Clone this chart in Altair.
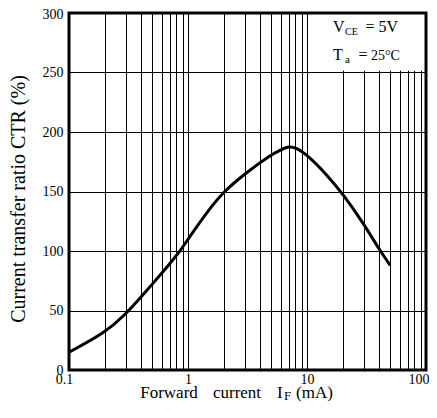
import altair as alt
import pandas as pd

# ---- data ----
IF_mA = [0.1, 0.2, 0.3, 0.4, 0.5, 0.7, 0.86, 1, 1.5, 2, 3, 5, 6, 7, 8, 10, 15, 20, 30, 40, 50]
CTR = [15, 31, 47, 61, 72, 89, 100, 110, 135, 150, 165, 181, 185, 188, 187, 181, 163, 148, 123, 102, 88]

x_grid = [round(m * 10.0 ** e, 4) for e in (-1, 0, 1) for m in range(1, 10)] + [100]
x_labels = [0.1, 1, 10, 100]
y_ticks = [0, 50, 100, 150, 200, 250, 300]

FONT = "Liberation Serif"
W, H = 357, 357

curve = pd.DataFrame({"IF": IF_mA, "CTR": CTR})
one = pd.DataFrame({"k": [0]})

xscale = alt.Scale(type="log", domain=[0.1, 100], nice=False)
yscale = alt.Scale(domain=[0, 300], nice=False)

label_expr = "indexof([" + ",".join(str(v) for v in x_labels) + "], datum.value) >= 0 ? datum.label : ''"

xaxis = alt.Axis(values=x_grid, labelExpr=label_expr, format="~g", title=None, grid=True,
                 gridColor="#000", gridWidth=1, gridOpacity=1, ticks=False, domain=False,
                 labelFont=FONT, labelFontSize=14, labelColor="#000", labelPadding=2,
                 labelFlush=False, labelOverlap=False,
                 labelAlign={"condition": {"test": "datum.value == 100", "value": "right"}, "value": "center"},
                 labelOffset={"condition": [{"test": "datum.value == 100", "value": 3},
                                            {"test": "datum.value == 0.1", "value": -5}],
                              "value": 0})
yaxis = alt.Axis(values=y_ticks, title=None, grid=True, gridColor="#000", gridWidth=1,
                 gridOpacity=1, ticks=False, domain=False, labelFont=FONT, labelFontSize=14,
                 labelColor="#000", labelPadding=6,
                 labelOffset={"condition": {"test": "datum.value == 300", "value": 1.5}, "value": 0})

line = alt.Chart(curve).mark_line(color="#000", strokeWidth=3, interpolate="basis").encode(
    x=alt.X("IF:Q", scale=xscale, axis=xaxis),
    y=alt.Y("CTR:Q", scale=yscale, axis=yaxis),
)

box = alt.Chart(one).mark_rect(fill="#fff").encode(
    x=alt.datum(10.6, type="quantitative", scale=xscale),
    x2=alt.datum(100),
    y=alt.datum(251.5, type="quantitative", scale=yscale),
    y2=alt.datum(300),
)

frame = alt.Chart(one).mark_rect(filled=False, stroke="#000", strokeWidth=3).encode(
    x=alt.datum(0.1, type="quantitative", scale=xscale),
    x2=alt.datum(100),
    y=alt.datum(0, type="quantitative", scale=yscale),
    y2=alt.datum(300),
)


def txt(s, x, y, size, align="left", angle=0, baseline="alphabetic"):
    return alt.Chart(one).mark_text(
        text=s, font=FONT, fontSize=size, color="#000", align=align, baseline=baseline, angle=angle
    ).encode(x=alt.value(x), y=alt.value(y))


texts = [
    # annotation box
    txt("V", 264, 19, 16),
    txt("CE", 276, 22, 10),
    txt("=", 301, 19, 16, align="center"),
    txt("5V", 329, 19, 16, align="right"),
    txt("T", 264, 47, 16),
    txt("a", 276, 50, 11),
    txt("=", 294, 47, 16, align="center"),
    txt("25°C", 302, 47, 14),
    # y title
    txt("Current transfer ratio CTR (%)", -50, 186, 20, align="center", angle=270, baseline="middle"),
    # x title
    txt("Forward", 100, 385, 17, align="center"),
    txt("current", 168, 385, 17, align="center"),
    txt("I", 208, 385, 17),
    txt("F", 215, 387, 13),
    txt("(mA)", 227, 385, 17),
]

chart = alt.layer(line, box, frame, *texts).properties(
    width=W, height=H,
    autosize=alt.AutoSizeParams(type="none"),
    padding={"left": 61, "top": 5, "right": 3, "bottom": 33},
).configure_view(stroke=None).configure(background="#fff")

chart.save("out.html", embed_options={"renderer": "svg", "actions": False})
